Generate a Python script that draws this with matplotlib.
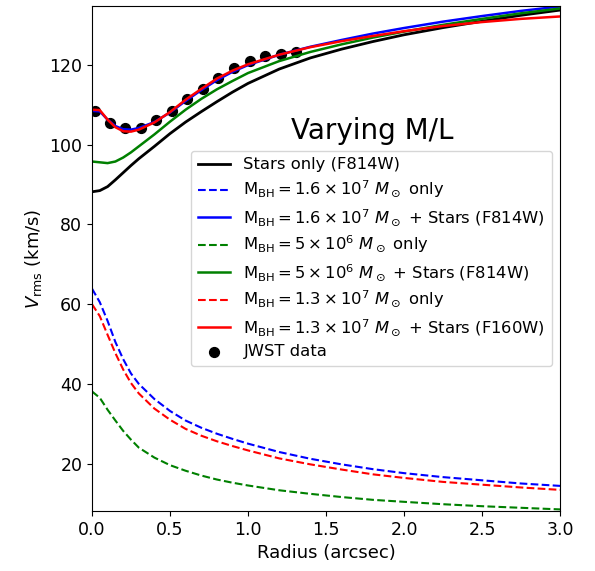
import numpy as np
import matplotlib
matplotlib.use("Agg")
import matplotlib.pyplot as plt

# Radii for the model curves (arcsec)
radius = [0.0, 0.05, 0.1, 0.15, 0.2, 0.25, 0.3, 0.4, 0.5, 0.6, 0.7, 0.8, 0.9,
          1.0, 1.2, 1.4, 1.6, 1.8, 2.0, 2.25, 2.5, 2.75, 3.0]

stars_f814w = [88.2, 88.5, 89.5, 91.2, 93.0, 94.8, 96.5, 99.6, 102.8, 105.7, 108.3,
               110.8, 113.2, 115.4, 119.0, 121.8, 124.0, 125.9, 127.6, 129.4,
               131.0, 132.5, 133.8]

bh16_only = [63.9, 60.5, 55.8, 50.5, 46.2, 42.6, 40.0, 36.2, 33.2, 30.8, 29.0,
             27.5, 26.2, 25.0, 22.9, 21.2, 19.8, 18.6, 17.6, 16.6, 15.8, 15.0, 14.4]
bh16_stars = [108.5, 108.4, 106.3, 104.7, 103.9, 103.8, 104.2, 105.7, 108.1, 111.0,
              113.7, 116.2, 118.3, 120.0, 122.6, 124.6, 126.3, 127.9, 129.3, 130.9,
              132.3, 133.6, 134.7]

bh5_only = [38.1, 36.5, 33.5, 30.8, 28.2, 26.0, 24.0, 21.5, 19.6, 18.2, 17.0,
            16.0, 15.2, 14.5, 13.3, 12.4, 11.6, 10.9, 10.4, 9.8, 9.3, 8.9, 8.5]
bh5_stars = [95.8, 95.6, 95.4, 95.8, 96.8, 98.1, 99.6, 102.6, 105.8, 108.8, 111.5,
             113.9, 116.0, 118.0, 121.0, 123.3, 125.2, 126.9, 128.4, 130.1, 131.6,
             133.0, 134.2]

bh13_only = [60.0, 57.0, 52.3, 47.7, 43.6, 40.2, 37.6, 33.8, 31.0, 28.7, 27.0,
             25.6, 24.4, 23.3, 21.3, 19.8, 18.5, 17.3, 16.4, 15.4, 14.7, 14.0, 13.4]
bh13_stars_f160w = [108.8, 108.7, 106.3, 104.4, 103.4, 103.3, 103.8, 105.6, 108.2,
                    111.3, 114.0, 116.6, 118.6, 120.2, 122.6, 124.5, 126.0, 127.3,
                    128.5, 129.8, 130.8, 131.6, 132.2]

# JWST data
jwst_r = [0.017, 0.115, 0.213, 0.312, 0.41, 0.51, 0.61, 0.71, 0.81, 0.91, 1.01,
          1.11, 1.21, 1.31]
jwst_v = [108.5, 105.4, 104.3, 104.2, 106.1, 108.6, 111.4, 114.0, 116.7, 119.3,
          120.9, 122.2, 122.75, 123.25]

fig = plt.figure(figsize=(5.95, 5.71), dpi=100)
ax = fig.add_axes([0.1546, 0.1051, 0.7866, 0.8849])

ax.scatter(jwst_r, jwst_v, s=50, color="black", zorder=1, label="JWST data")

h1, = ax.plot(radius, stars_f814w, color="black", lw=2.0, label="Stars only (F814W)", zorder=2)
h2, = ax.plot(radius, bh16_only, color="blue", ls="--", lw=1.5,
              label=r"$\mathrm{M_{BH}} = 1.6 \times 10^7\ M_\odot$ only", zorder=2)
h3, = ax.plot(radius, bh16_stars, color="blue", lw=1.8,
              label=r"$\mathrm{M_{BH}} = 1.6 \times 10^7\ M_\odot$ + Stars (F814W)", zorder=2)
h4, = ax.plot(radius, bh5_only, color="green", ls="--", lw=1.5,
              label=r"$\mathrm{M_{BH}} = 5 \times 10^6\ M_\odot$ only", zorder=2)
h5, = ax.plot(radius, bh5_stars, color="green", lw=1.8,
              label=r"$\mathrm{M_{BH}} = 5 \times 10^6\ M_\odot$ + Stars (F814W)", zorder=2)
h6, = ax.plot(radius, bh13_only, color="red", ls="--", lw=1.5,
              label=r"$\mathrm{M_{BH}} = 1.3 \times 10^7\ M_\odot$ only", zorder=2)
h7, = ax.plot(radius, bh13_stars_f160w, color="red", lw=1.8,
              label=r"$\mathrm{M_{BH}} = 1.3 \times 10^7\ M_\odot$ + Stars (F160W)", zorder=2)

hs = ax.scatter([], [], s=50, color="black", label="JWST data")
handles = [h1, h2, h3, h4, h5, h6, h7, hs]
ax.legend(handles=handles, labels=[h.get_label() for h in handles],
          loc="center right", fontsize=11.8, labelspacing=0.4)

ax.text(0.598, 0.752, "Varying M/L", transform=ax.transAxes, fontsize=20,
        ha="center", va="center")

ax.set_xlim(0, 3.0)
ax.set_ylim(8.1, 134.9)
ax.set_xticks([0.0, 0.5, 1.0, 1.5, 2.0, 2.5, 3.0])
ax.set_yticks([20, 40, 60, 80, 100, 120])
ax.tick_params(labelsize=12.5)
ax.set_xlabel("Radius (arcsec)", fontsize=13)
ax.set_ylabel(r"$V_{\rm rms}$ (km/s)", fontsize=13)

fig.savefig("out.png", dpi=100)
